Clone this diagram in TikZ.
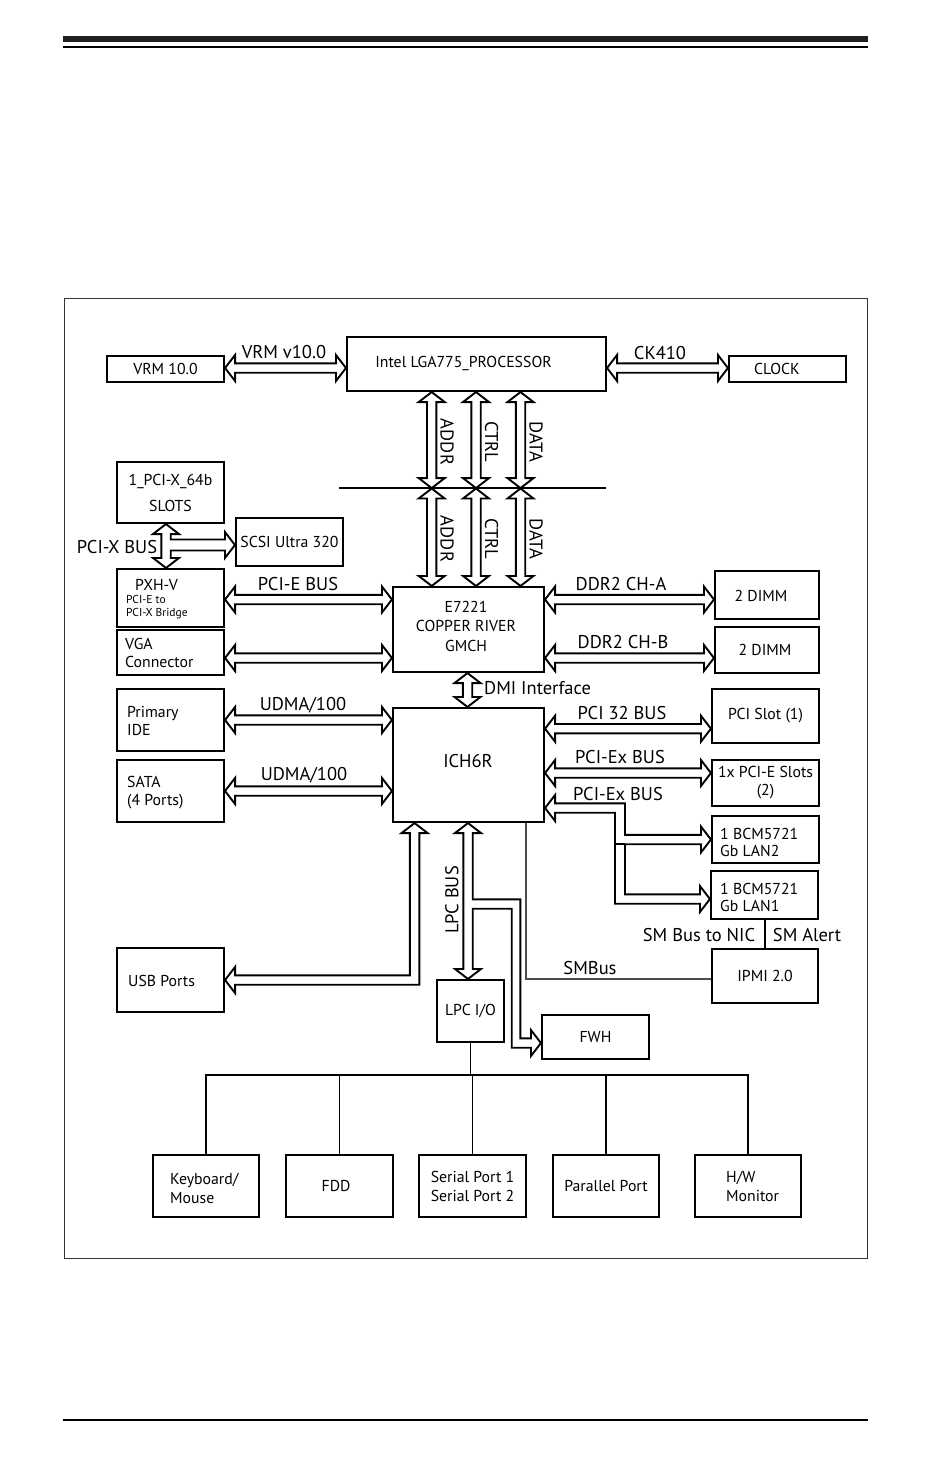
\documentclass[tikz,border=0pt]{standalone}
\usepackage{fontspec}
\setmainfont{PT Sans}
\usetikzlibrary{calc}
\newcommand{\fbt}{\fontsize{15.8}{18}\selectfont}
\newcommand{\flb}{\fontsize{18.5}{22}\selectfont}
\newcommand{\fsm}{\fontsize{11.5}{12.5}\selectfont}
\def\ahL{10pt}\def\ahW{13pt}\def\shW{4.7pt}
% horizontal double fat arrow: left node, right node, y
\newcommand{\fatH}[3]{\draw[fat] let \p1=(#1.east), \p2=(#2.west), \p3=(0,#3) in
  (\x1,\y3) -- (\x1+\ahL,\y3+\ahW) -- (\x1+\ahL,\y3+\shW) -- (\x2-\ahL,\y3+\shW) -- (\x2-\ahL,\y3+\ahW) -- (\x2,\y3)
  -- (\x2-\ahL,\y3-\ahW) -- (\x2-\ahL,\y3-\shW) -- (\x1+\ahL,\y3-\shW) -- (\x1+\ahL,\y3-\ahW) -- cycle;}
% vertical double fat arrow: top node, bottom node, x
\newcommand{\fatV}[3]{\draw[fat] let \p1=(#1.south), \p2=(#2.north), \p3=(#3,0) in
  (\x3,\y1) -- (\x3+\ahW,\y1-\ahL) -- (\x3+\shW,\y1-\ahL) -- (\x3+\shW,\y2+\ahL) -- (\x3+\ahW,\y2+\ahL) -- (\x3,\y2)
  -- (\x3-\ahW,\y2+\ahL) -- (\x3-\shW,\y2+\ahL) -- (\x3-\shW,\y1-\ahL) -- (\x3-\ahW,\y1-\ahL) -- cycle;}
\begin{document}
\begin{tikzpicture}[x=1pt,y=-1pt,
  box/.style={draw, line width=2.1pt, inner sep=0pt, font=\fbt, align=center},
  fat/.style={draw, line width=1.9pt, fill=white, line join=miter},
  wire/.style={line width=1.8pt},
  lbl/.style={font=\flb, inner sep=0pt},
  btxt/.style={font=\fbt, inner sep=0pt, align=left},
  stxt/.style={font=\fsm, inner sep=0pt, align=left}]
\useasboundingbox (0,0) rectangle (950,1484);
% page rules and frame
\fill[black!88] (63,35.5) rectangle (868,42);
\draw[line width=1.5pt] (63,47) -- (868,47);
\draw[line width=1.5pt] (63,1420) -- (868,1420);
\draw[line width=1pt, black!80] (64,298) rectangle (867,1258);

% boxes
\node[box, minimum width=117pt, minimum height=26pt] (vrm) at (165.5,369) {VRM 10.0};
\node[box, minimum width=259pt, minimum height=54pt] (cpu) at (476.5,364) {};
\node[btxt] (t-cpu) at (463.5,363) {Intel LGA775\_PROCESSOR};
\node[box, minimum width=117pt, minimum height=26pt] (clk) at (787.5,369) {};
\node[btxt] (t-clk) at (777,369) {CLOCK};
\node[box, minimum width=107pt, minimum height=61pt, font=\fontsize{15.8}{26}\selectfont] (slots) at (170.5,492.5) {1\_PCI-X\_64b\\SLOTS};
\node[box, minimum width=107pt, minimum height=48pt] (scsi) at (289.5,542) {SCSI Ultra 320};
\node[box, minimum width=107pt, minimum height=58pt] (pxh) at (170.5,598) {};
\node[btxt] (t-pxh) at (156.5,585) {PXH-V};
\node[stxt, anchor=west] (t-pxh2) at (126,607) {PCI-E to\\PCI-X Bridge};
\node[box, minimum width=107pt, minimum height=45pt] (vga) at (170.5,652.5) {};
\node[btxt, anchor=west] (t-vga) at (125,652.5) {VGA\\Connector};
\node[box, minimum width=107pt, minimum height=62pt] (ide) at (170.5,720) {};
\node[btxt, anchor=west] (t-ide) at (127,721) {Primary\\IDE};
\node[box, minimum width=107pt, minimum height=62pt] (sata) at (170.5,791) {};
\node[btxt, anchor=west] (t-sata) at (127,793) {SATA\\(4 Ports)};
\node[box, minimum width=107pt, minimum height=64pt] (usb) at (170.5,980) {};
\node[btxt, anchor=west] (t-usb) at (128,981) {USB Ports};
\node[box, minimum width=151pt, minimum height=85pt] (gmch) at (468.5,629.5) {};
\node[btxt, align=center, font=\fontsize{15.8}{19.5}\selectfont] (t-gmch) at (466,626) {E7221\\COPPER RIVER\\GMCH};
\node[box, minimum width=151pt, minimum height=114pt] (ich) at (468.5,765) {};
\node[lbl] (t-ich) at (468,761) {ICH6R};
\node[box, minimum width=104pt, minimum height=48pt] (dimma) at (767,595) {};
\node[btxt] (t-dimma) at (761,596) {2 DIMM};
\node[box, minimum width=104pt, minimum height=46pt] (dimmb) at (767,650) {};
\node[btxt] (t-dimmb) at (765,650) {2 DIMM};
\node[box, minimum width=107pt, minimum height=54pt] (pcislot) at (765.5,716) {PCI Slot (1)};
\node[box, minimum width=107pt, minimum height=46pt] (pcie) at (765.5,783) {1x PCI-E Slots\\(2)};
\node[box, minimum width=107pt, minimum height=47pt] (lan2) at (765.5,839.5) {};
\node[btxt, anchor=west, font=\fontsize{15.8}{17}\selectfont] (t-lan2) at (720,842.5) {1 BCM5721\\Gb LAN2};
\node[box, minimum width=107pt, minimum height=48pt] (lan1) at (764.5,895) {};
\node[btxt, anchor=west, font=\fontsize{15.8}{17}\selectfont] (t-lan1) at (720,897.5) {1 BCM5721\\Gb LAN1};
\node[box, minimum width=106pt, minimum height=54pt] (ipmi) at (765,976) {IPMI 2.0};
\node[box, minimum width=67pt, minimum height=62pt] (lpc) at (470.5,1011) {LPC I/O};
\node[box, minimum width=107pt, minimum height=44pt] (fwh) at (595.5,1037) {FWH};
\node[box, minimum width=106pt, minimum height=62pt] (kbd) at (206,1186) {};
\node[btxt, anchor=west, font=\fontsize{15.8}{19}\selectfont] (t-kbd) at (170,1188) {Keyboard/\\Mouse};
\node[box, minimum width=107pt, minimum height=62pt] (fdd) at (339.5,1186) {};
\node[btxt] (t-fdd) at (336,1186) {FDD};
\node[box, minimum width=107pt, minimum height=62pt, font=\fontsize{15.8}{19}\selectfont] (ser) at (472.5,1186) {Serial Port 1\\Serial Port 2};
\node[box, minimum width=106pt, minimum height=62pt] (par) at (606,1186) {Parallel Port};
\node[box, minimum width=106pt, minimum height=62pt] (hwm) at (748,1186) {};
\node[btxt, anchor=west, font=\fontsize{15.8}{19}\selectfont] (t-hwm) at (726,1186) {H/W\\Monitor};

% front side bus line
\node[inner sep=0pt, minimum width=267pt, minimum height=0pt] (fsb) at (472.5,488.3) {};
\draw[line width=1.7pt] (fsb.west) -- (fsb.east);

% horizontal buses
\fatH{vrm}{cpu}{368}
\fatH{cpu}{clk}{368}
\fatH{pxh}{gmch}{599.5}
\fatH{vga}{gmch}{658}
\fatH{gmch}{dimma}{599.5}
\fatH{gmch}{dimmb}{658}
\fatH{ide}{ich}{720}
\fatH{sata}{ich}{791}
\fatH{ich}{pcislot}{728.7}
\fatH{ich}{pcie}{773}

% vertical buses
\fatV{cpu}{fsb}{431.7}
\fatV{cpu}{fsb}{476}
\fatV{cpu}{fsb}{520.5}
\fatV{fsb}{gmch}{431.7}
\fatV{fsb}{gmch}{476}
\fatV{fsb}{gmch}{520.5}
\fatV{gmch}{ich}{467.5}

% PCI-X bus with branch to SCSI
\draw[fat] let \p1=(slots.south), \p2=(pxh.north), \p3=(scsi.west), \p4=(166,545) in
  (\x4,\y1) -- (\x4+\ahW,\y1-\ahL) -- (\x4+\shW,\y1-\ahL) -- (\x4+\shW,\y4+5.5pt) -- (\x3-\ahL,\y4+5.5pt)
  -- (\x3-\ahL,\y4+\ahW) -- (\x3,\y4) -- (\x3-\ahL,\y4-\ahW) -- (\x3-\ahL,\y4-5.5pt) -- (\x4+\shW,\y4-5.5pt)
  -- (\x4+\shW,\y2+\ahL) -- (\x4+\ahW,\y2+\ahL) -- (\x4,\y2) -- (\x4-\ahW,\y2+\ahL) -- (\x4-\shW,\y2+\ahL)
  -- (\x4-\shW,\y1-\ahL) -- (\x4-\ahW,\y1-\ahL) -- cycle;

% USB
\draw[fat] let \p1=(ich.south), \p2=(usb.east), \p3=(414.6,0) in
  (\x3,\y1) -- (\x3+\ahW,\y1-\ahL) -- (\x3+\shW,\y1-\ahL) -- (\x3+\shW,\y2-\shW) -- (\x2+\ahL,\y2-\shW)
  -- (\x2+\ahL,\y2-\ahW) -- (\x2,\y2) -- (\x2+\ahL,\y2+\ahW) -- (\x2+\ahL,\y2+\shW) -- (\x3-\shW,\y2+\shW)
  -- (\x3-\shW,\y1-\ahL) -- (\x3-\ahW,\y1-\ahL) -- cycle;

% LPC bus with branch to FWH
\draw[fat] let \p1=(ich.south), \p2=(lpc.north), \p3=(fwh.west), \p4=(468,0), \p5=(516,904), \p6=(0,1043) in
  (\x4,\y1) -- (\x4+\ahW,\y1-\ahL) -- (\x4+\shW,\y1-\ahL) -- (\x4+\shW,\y5+\shW) -- (\x5+4.3pt,\y5+\shW)
  -- (\x5+4.3pt,\y6+\shW) -- (\x3-\ahL,\y6+\shW) -- (\x3-\ahL,\y6+\ahW) -- (\x3,\y6) -- (\x3-\ahL,\y6-\ahW)
  -- (\x3-\ahL,\y6-\shW) -- (\x5-4.3pt,\y6-\shW) -- (\x5-4.3pt,\y5-\shW) -- (\x4+\shW,\y5-\shW)
  -- (\x4+\shW,\y2+\ahL) -- (\x4+\ahW,\y2+\ahL) -- (\x4,\y2) -- (\x4-\ahW,\y2+\ahL) -- (\x4-\shW,\y2+\ahL)
  -- (\x4-\shW,\y1-\ahL) -- (\x4-\ahW,\y1-\ahL) -- cycle;

% PCI-Ex bus to the two LANs
\draw[fat] let \p1=(ich.east), \p2=(lan2.west), \p3=(lan1.west), \p4=(620,808), \p5=(0,899) in
  (\x1,\y4) -- (\x1+\ahL,\y4+\ahW) -- (\x1+\ahL,\y4+\shW) -- (\x4+5pt,\y4+\shW) -- (\x4+5pt,\y2+\shW)
  -- (\x2-\ahL,\y2+\shW) -- (\x2-\ahL,\y2+\ahW) -- (\x2,\y2) -- (\x2-\ahL,\y2-\ahW) -- (\x2-\ahL,\y2-\shW)
  -- (\x4+5pt,\y2-\shW) -- (\x4+5pt,\y5+\shW) -- (\x3-\ahL,\y5+\shW) -- (\x3-\ahL,\y5+\ahW) -- (\x3,\y5)
  -- (\x3-\ahL,\y5-\ahW) -- (\x3-\ahL,\y5-\shW) -- (\x4-5pt,\y5-\shW) -- (\x4-5pt,\y4-\shW)
  -- (\x1+\ahL,\y4-\shW) -- (\x1+\ahL,\y4-\ahW) -- cycle;
\draw[fat] let \p2=(lan2.west), \p4=(620,808) in (\x4-5pt,\y2-\shW) -- (\x4+5pt,\y2-\shW);

% SMBus and SM lines
\coordinate (smb) at (526,979);
\draw[line width=1.3pt, black!70] (ich.south -| smb) -- (smb) -- (ipmi.west |- smb);
\draw[wire] (lan1.south -| 765,0) -- (ipmi.north -| 765,0);

% LPC I/O peripheral tree
\coordinate (treeL) at (206,1075);
\coordinate (treeR) at (748,1075);
\draw[wire] (kbd.north) -- (kbd.north |- treeL) -- (treeR) -- (hwm.north);
\draw[wire] (fdd.north) -- (fdd.north |- treeL);
\draw[wire] (ser.north) -- (ser.north |- treeL);
\draw[wire] (par.north) -- (par.north |- treeL);
\draw[wire] (lpc.south) -- (lpc.south |- treeL);

% bus labels
\node[lbl] (l-vrm) at (284,352) {VRM v10.0};
\node[lbl] (l-ck) at (660,353) {CK410};
\node[lbl] (l-pcix) at (117,547) {PCI-X BUS};
\node[lbl] (l-pcie) at (298,584) {PCI-E BUS};
\node[lbl] (l-cha) at (621,584) {DDR2 CH-A};
\node[lbl] (l-chb) at (623,642) {DDR2 CH-B};
\node[lbl] (l-udma1) at (303,705) {UDMA/100};
\node[lbl] (l-udma2) at (304,775) {UDMA/100};
\node[lbl] (l-pci32) at (622,713) {PCI 32 BUS};
\node[lbl] (l-pciex1) at (620,757) {PCI-Ex BUS};
\node[lbl] (l-pciex2) at (618,794) {PCI-Ex BUS};
\node[lbl, anchor=west] (l-dmi) at (484,688) {DMI Interface};
\node[lbl] (l-smnic) at (699,935) {SM Bus to NIC};
\node[lbl] (l-smal) at (807,935) {SM Alert};
\node[lbl] (l-smbus) at (590,968) {SMBus};
\node[lbl, rotate=90] (l-lpc) at (452,900) {LPC BUS};
\node[lbl, rotate=-90] (l-addr1) at (447,442) {ADDR};
\node[lbl, rotate=-90] (l-ctrl1) at (491.5,442) {CTRL};
\node[lbl, rotate=-90] (l-data1) at (536,442) {DATA};
\node[lbl, rotate=-90] (l-addr2) at (447,539) {ADDR};
\node[lbl, rotate=-90] (l-ctrl2) at (491.5,539) {CTRL};
\node[lbl, rotate=-90] (l-data2) at (536,539) {DATA};
\end{tikzpicture}
\end{document}
